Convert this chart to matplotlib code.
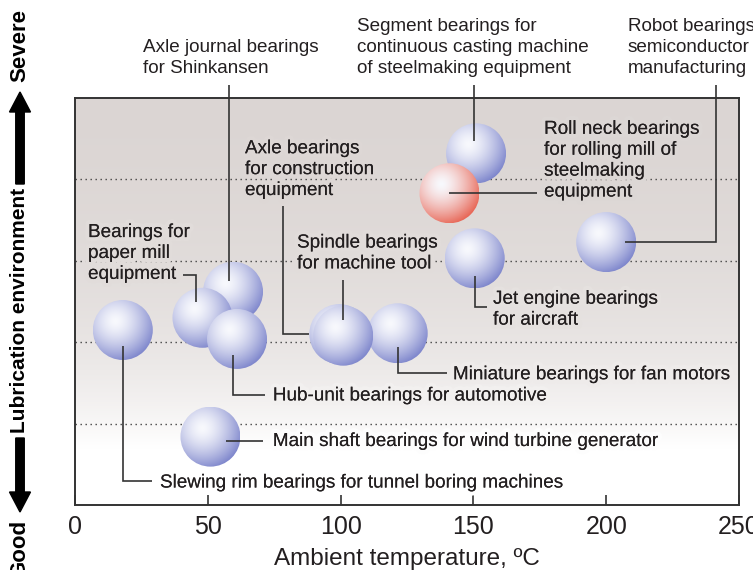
import numpy as np
import matplotlib
matplotlib.use("Agg")
import matplotlib.pyplot as plt
from matplotlib.patches import Ellipse, FancyArrow
import matplotlib.patheffects as pe

plt.rcParams['font.family'] = ['Liberation Sans', 'DejaVu Sans']

# bearing name, ambient temperature (deg C), lubrication environment (0 good .. 5 severe)
names = ["Slewing rim", "Shinkansen", "Paper mill", "Hub-unit", "Wind turbine",
         "Fan motors", "Construction", "Spindle", "Jet engine", "Segment",
         "Roll neck", "Robot"]
temps = [18, 59.5, 48, 61, 51, 121.5, 99.5, 101, 150.5, 151, 141, 200]
lub = [2.15, 2.62, 2.30, 2.04, 0.84, 2.11, 2.10, 2.08, 3.03, 4.32, 3.83, 3.23]
highlight = ["Roll neck"]
draw_order = ["Slewing rim", "Shinkansen", "Paper mill", "Hub-unit", "Wind turbine",
              "Fan motors", "Construction", "Spindle", "Jet engine", "Segment",
              "Roll neck", "Robot"]
xticks = [0, 50, 100, 150, 200, 250]
band_lines = [1, 2, 3, 4]

TXT = '#231f20'
LINE = '#333333'
FS = 13.6

fig = plt.figure(figsize=(7.53, 5.70), dpi=100)
ax = fig.add_axes([75 / 753, 65 / 570, 664 / 753, 407 / 570])
ax.set_xlim(0, 250)
ax.set_ylim(0, 5)

# background gradient
top_col = np.array([219, 213, 211]) / 255.0


def bg_frac(y):
    f = 1 - np.exp(-np.clip(y - 0.7, 0, None) / 1.5)
    return f / (1 - np.exp(-4.3 / 1.5))


def bg_color(y):
    f = bg_frac(y)
    return tuple(1 - (1 - top_col) * f)


yy = np.linspace(0, 5, 300)
grad = np.array([bg_color(v) for v in yy])[:, None, :]
ax.imshow(grad, extent=[0, 250, 0, 5], origin='lower', aspect='auto', zorder=0,
          interpolation='bilinear')

for b in band_lines:
    ax.axhline(b, color='#444444', lw=1.0, ls=(0, (1, 2.6)), zorder=1)

# balls
rx = 30 / 2.656
ry = 30 / 81.4
n = 160
u, v = np.meshgrid(np.linspace(-1, 1, n), np.linspace(-1, 1, n))
d = np.sqrt((u + 0.25) ** 2 + (v - 0.3) ** 2) / 1.39
t = np.clip(d, 0, 1) ** 1.5


def ball_img(edge):
    edge = np.array(edge) / 255.0
    core = np.array([248, 249, 253]) / 255.0
    img = core[None, None, :] * (1 - t[..., None]) + edge[None, None, :] * t[..., None]
    return img


blue_img = ball_img([126, 134, 204])
red_img = ball_img([232, 104, 88])

pos = {nm: (x, y) for nm, x, y in zip(names, temps, lub)}
for i, nm in enumerate(draw_order):
    x, y = pos[nm]
    img = red_img if nm in highlight else blue_img
    im = ax.imshow(img, extent=[x - rx, x + rx, y - ry, y + ry], origin='lower',
                   aspect='auto', zorder=2 + i * 0.01, interpolation='bilinear')
    clip = Ellipse((x, y), 2 * rx, 2 * ry, transform=ax.transData)
    im.set_clip_path(clip)

ax.set_xlim(0, 250)
ax.set_ylim(0, 5)

# labels and leader lines
def label(s, x, y, path, inside=True):
    xs, ys = zip(*path)
    ax.plot(xs, ys, color=LINE, lw=1.2, zorder=5, clip_on=False,
            solid_capstyle='butt', solid_joinstyle='miter')
    kw = {}
    if inside:
        kw['path_effects'] = [pe.withStroke(linewidth=6, foreground=bg_color(y)),
                              pe.Normal()]
    ax.text(x, y, s, fontsize=FS, color=TXT, ha='left', va='center',
            linespacing=1.3, zorder=6, clip_on=False, **kw)


x, y = pos["Shinkansen"]
label("Axle journal bearings\nfor Shinkansen", 25.6, 5.49,
      [(x - 1.5, 5.16), (x - 1.5, y + 0.13)], inside=False)
x, y = pos["Segment"]
label("Segment bearings for\ncontinuous casting machine\nof steelmaking equipment",
      106.2, 5.62, [(x - 0.8, 5.16), (x - 0.8, y + 0.15)], inside=False)
x, y = pos["Robot"]
label("Robot bearings for\nsemiconductor\nmanufacturing", 208.2, 5.62,
      [(241.3, 5.16), (241.3, y), (x + 7, y)], inside=False)
x, y = pos["Roll neck"]
label("Roll neck bearings\nfor rolling mill of\nsteelmaking\nequipment", 176.6, 4.23,
      [(x, y), (173.9, y)])
x, y = pos["Construction"]
label("Axle bearings\nfor construction\nequipment", 64.0, 4.12,
      [(78.3, 3.67), (78.3, y), (x - rx, y)])
x, y = pos["Spindle"]
label("Spindle bearings\nfor machine tool", 83.6, 3.09,
      [(x, 2.76), (x, y + 0.19)])
x, y = pos["Paper mill"]
label("Bearings for\npaper mill\nequipment", 4.9, 3.09,
      [(40.7, 2.83), (x - 2.3, 2.83), (x - 2.3, y + 0.2)])
x, y = pos["Hub-unit"]
label("Hub-unit bearings for automotive", 74.5, 1.34,
      [(x - 1.5, y - 0.2), (x - 1.5, 1.35), (71.5, 1.35)])
x, y = pos["Fan motors"]
label("Miniature bearings for fan motors", 142.3, 1.60,
      [(x, y - 0.17), (x, 1.62), (140.1, 1.62)])
x, y = pos["Jet engine"]
label("Jet engine bearings\nfor aircraft", 157.4, 2.40,
      [(x, y - 0.22), (x, 2.43), (155.1, 2.43)])
x, y = pos["Wind turbine"]
label("Main shaft bearings for wind turbine generator", 74.5, 0.78,
      [(x + 6, 0.79), (70.8, 0.79)])
x, y = pos["Slewing rim"]
label("Slewing rim bearings for tunnel boring machines", 32.0, 0.27,
      [(x, y - 0.2), (x, 0.30), (29.0, 0.30)])

# axes styling
for sp in ax.spines.values():
    sp.set_color(LINE)
    sp.set_linewidth(1.4)
    sp.set_zorder(7)
ax.set_yticks([])
ax.set_xticks(xticks)
ax.tick_params(axis='x', direction='in', length=7, width=1.2, color=LINE,
               labelsize=18, labelcolor=TXT, pad=7)
ax.set_xlabel("Ambient temperature, ºC", fontsize=17.5, color=TXT, labelpad=7)

# vertical axis caption with arrows (figure pixels, measured from the top)
def fpx(px, py):
    return px / 100, (570 - py) / 100


xc = 20
cap = dict(rotation=90, ha='center', va='center', fontweight='bold',
           color='black', transform=fig.dpi_scale_trans)
fig.text(*fpx(xc, 45), "Severe", fontsize=16, **cap)
fig.text(*fpx(xc, 310), "Lubrication environment", fontsize=15, **cap)
fig.text(*fpx(xc, 549), "Good", fontsize=16, **cap)

for top, bottom, up in [(92, 184, True), (438, 512, False)]:
    sx, sy = fpx(xc, bottom if up else top)
    _, ey = fpx(xc, top if up else bottom)
    fig.patches.append(FancyArrow(sx, sy, 0, ey - sy, width=0.085, head_width=0.21,
                                  head_length=0.2, length_includes_head=True,
                                  color='black', transform=fig.dpi_scale_trans))

fig.savefig("out.png", dpi=100)
